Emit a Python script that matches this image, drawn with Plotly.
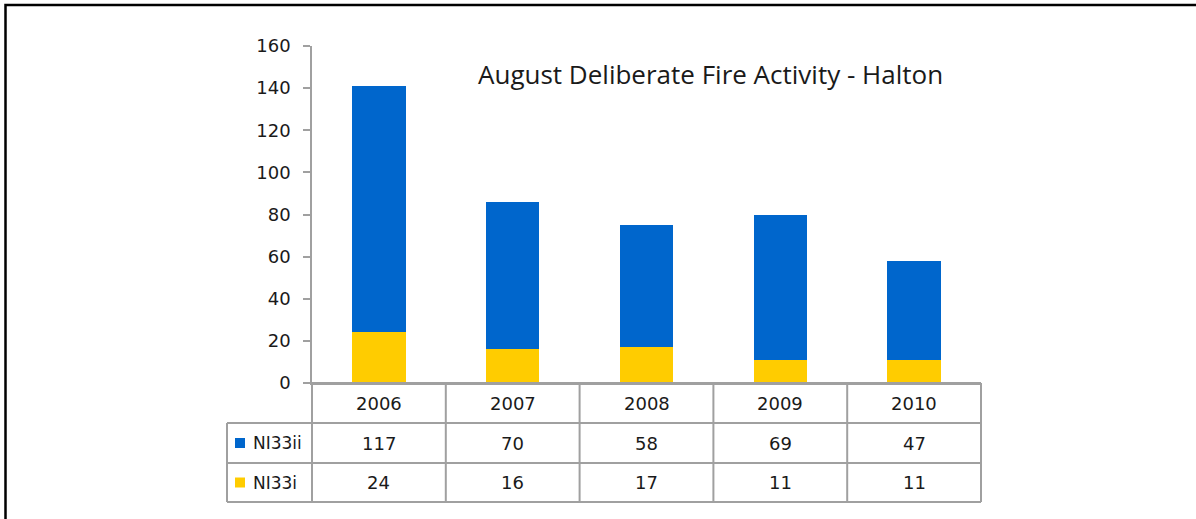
import plotly.graph_objects as go

# Data
years = ["2006", "2007", "2008", "2009", "2010"]
ni33ii = [117, 70, 58, 69, 47]
ni33i = [24, 16, 17, 11, 11]
series_names = ["NI33ii", "NI33i"]
y_ticks = [0, 20, 40, 60, 80, 100, 120, 140, 160]

BLUE = "#0066CC"
YELLOW = "#FFCC00"
GRID = "#A0A0A0"
TXT = "#1a1a1a"
FONT = "DejaVu Sans"

# Figure / plot-area geometry in pixels
FIG_W, FIG_H = 1196, 519
L, R, T, B = 312, 981, 46, 383
PW, PH = R - L, B - T


def px_x(p):
    return (p - L) / PW


def px_y(p):
    return (B - p) / PH


fig = go.Figure()
fig.add_trace(go.Bar(x=years, y=ni33i, name="NI33i", marker=dict(color=YELLOW, line=dict(width=0))))
fig.add_trace(go.Bar(x=years, y=ni33ii, name="NI33ii", marker=dict(color=BLUE, line=dict(width=0))))

shapes = []
annotations = []

# Data table below the axis
row_tops = [383, 423, 463, 502]
n = len(years)
legend_left = 227
line = dict(color=GRID, width=2)

# horizontal rules
shapes.append(dict(type="line", xref="paper", yref="paper", x0=0, x1=1,
                   y0=px_y(row_tops[0]), y1=px_y(row_tops[0]), line=line))
for yy in row_tops[1:]:
    shapes.append(dict(type="line", xref="paper", yref="paper", x0=px_x(legend_left), x1=1,
                       y0=px_y(yy), y1=px_y(yy), line=line))
# vertical rules at category boundaries
for k in range(n + 1):
    shapes.append(dict(type="line", xref="paper", yref="paper", x0=k / n, x1=k / n,
                       y0=px_y(row_tops[0]), y1=px_y(row_tops[-1]), line=line))
shapes.append(dict(type="line", xref="paper", yref="paper", x0=px_x(legend_left), x1=px_x(legend_left),
                   y0=px_y(row_tops[1]), y1=px_y(row_tops[-1]), line=line))

# header row (years); category positions are given by index
hdr_c = (row_tops[0] + row_tops[1]) / 2
for idx, yr in enumerate(years):
    annotations.append(dict(x=idx, xref="x", y=px_y(hdr_c), yref="paper", text=yr, showarrow=False,
                            xanchor="center", yanchor="middle", font=dict(family=FONT, size=18, color=TXT)))

# value rows
rows = [(series_names[0], ni33ii, BLUE), (series_names[1], ni33i, YELLOW)]
for i, (name, vals, col) in enumerate(rows):
    yc = (row_tops[i + 1] + row_tops[i + 2]) / 2
    for idx, v in enumerate(vals):
        annotations.append(dict(x=idx, xref="x", y=px_y(yc), yref="paper", text=str(v), showarrow=False,
                                xanchor="center", yanchor="middle", font=dict(family=FONT, size=18, color=TXT)))
    # legend key and label
    shapes.append(dict(type="rect", xref="paper", yref="paper", x0=px_x(235), x1=px_x(245),
                       y0=px_y(yc - 5), y1=px_y(yc + 5), fillcolor=col, line=dict(width=0)))
    annotations.append(dict(x=px_x(251), xref="paper", y=px_y(yc), yref="paper", text=name, showarrow=False,
                            xanchor="left", yanchor="middle", font=dict(family=FONT, size=17, color=TXT)))

# outer frame (top and left edges visible)
shapes.append(dict(type="rect", xref="paper", yref="paper", x0=px_x(5.5), x1=px_x(1300),
                   y0=px_y(5), y1=px_y(700), line=dict(color="black", width=2.5)))

# chart title
annotations.append(dict(x=px_x(710), xref="paper", y=px_y(74), yref="paper",
                        text="August Deliberate Fire Activity - Halton", showarrow=False,
                        xanchor="center", yanchor="middle", font=dict(family="Open Sans", size=26, color=TXT)))

fig.update_layout(
    width=FIG_W, height=FIG_H,
    margin=dict(l=L, r=FIG_W - R, t=T, b=FIG_H - B, pad=0),
    paper_bgcolor="white", plot_bgcolor="white",
    barmode="stack", bargap=0.6,
    showlegend=False,
    shapes=shapes, annotations=annotations,
    xaxis=dict(type="category", range=[-0.5, n - 0.5], showticklabels=False, ticks="",
               showgrid=False, zeroline=False,
               showline=True, linecolor=GRID, linewidth=2, fixedrange=True),
    yaxis=dict(range=[0, 160], tickvals=y_ticks, showgrid=False, zeroline=False,
               showline=True, linecolor=GRID, linewidth=1.5, ticks="outside", ticklen=7,
               tickcolor=GRID, tickwidth=1.5, ticklabelstandoff=9,
               tickfont=dict(family=FONT, size=18, color=TXT), fixedrange=True),
)

fig.write_html("out.html", config={"displayModeBar": False})
